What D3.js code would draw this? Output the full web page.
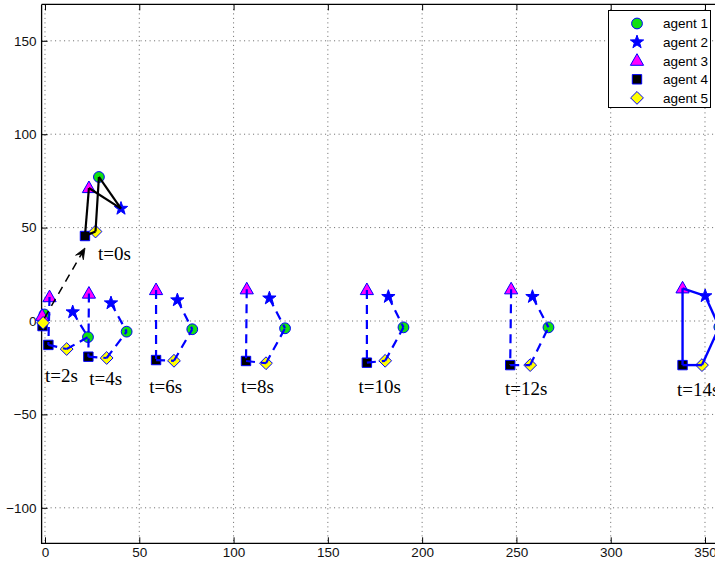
<!DOCTYPE html>
<html><head><meta charset="utf-8">
<script src="https://cdn.jsdelivr.net/npm/d3@7"></script>
<style>html,body{margin:0;padding:0;background:#fff;overflow:hidden}</style>
</head><body>
<svg id="chart" width="715" height="563"></svg>
<script>
// ---------------- DATA ----------------
const agentNames = ["agent 1", "agent 2", "agent 3", "agent 4", "agent 5"];
const xTicks = [0, 50, 100, 150, 200, 250, 300, 350];
const yTicks = [-100, -50, 0, 50, 100, 150];
const timeLabels = ["t=0s", "t=2s", "t=4s", "t=6s", "t=8s", "t=10s", "t=12s", "t=14s"];
// positions of agents 1..5 at each time, [x, y]
const posT0  = [[28.6, 77.1], [40.3, 60.2], [23.3, 71.2], [21.2, 45.5], [26.8, 47.9]];
const posT2  = [[22.8, -8.6], [14.7, 4.8], [2.4, 12.8], [1.8, -12.8], [11.5, -15.0]];
const posT4  = [[43.3, -5.7], [35.0, 9.6], [23.3, 14.7], [23.0, -19.1], [32.7, -19.8]];
const posT6  = [[78.1, -4.4], [70.2, 11.2], [58.9, 16.6], [58.9, -20.9], [68.4, -21.3]];
const posT8  = [[127.3, -3.9], [119.0, 12.2], [107.0, 17.0], [106.6, -21.4], [117.2, -22.6]];
const posT10 = [[190.1, -3.4], [182.1, 13.0], [170.7, 16.6], [170.7, -22.3], [180.4, -21.3]];
const posT12 = [[267.0, -3.4], [258.5, 13.0], [247.2, 17.0], [246.7, -23.6], [257.3, -23.6]];
const posT14 = [[357.6, -3.2], [350.1, 13.4], [338.1, 17.5], [338.1, -23.6], [348.4, -23.6]];
// cluster of markers near the origin (agent 2 hidden)
const posOrigin = [[-0.3, 3.5], null, [-1.5, 2.8], [-1.3, -2.7], [-1.0, -1.0]];
// text label anchor (left, baseline) in data units
const labelX = [28.1, 0.0, 23.5, 55.3, 104.0, 166.2, 244.0, 335.1];
const labelY = [32.7, -32.7, -34.3, -38.5, -38.5, -38.5, -39.6, -40.1];
// arrow from near origin to initial formation
const arrowFrom = [-0.3, 1.6];
const arrowTo = [21.2, 39.1];
// links (agent indices) : closed ring and dashed chain
const ringEdges = [[2, 1], [1, 0], [0, 4], [4, 3], [3, 2]];
const chainEdges = [[2, 3], [3, 4], [4, 0], [1, 0]];

// ---------------- SETUP ----------------
const svg = d3.select("#chart");
const W = 715, H = 563;
const x = d3.scaleLinear().domain([-1.8, 360]).range([41.6, 41.6 + 361.8 * 1.8857]);
const y = d3.scaleLinear().domain([-119, 169.5]).range([543.3, 543.3 - 288.5 * 1.868]);
const X0 = x(-1.8), Y0 = y(-119), YT = y(169.5);

const formations = [
  {pos: posT0, style: "black"},
  {pos: posT2, style: "dash"},
  {pos: posT4, style: "dash"},
  {pos: posT6, style: "dash"},
  {pos: posT8, style: "dash"},
  {pos: posT10, style: "dash"},
  {pos: posT12, style: "dash"},
  {pos: posT14, style: "blue"}
];

// ---------------- GRID ----------------
const grid = svg.append("g").attr("stroke", "#666").attr("stroke-width", 1)
  .attr("stroke-dasharray", "1,3.5");
xTicks.forEach(t => grid.append("line").attr("x1", x(t)).attr("x2", x(t)).attr("y1", YT).attr("y2", Y0));
yTicks.forEach(t => grid.append("line").attr("x1", X0).attr("x2", W + 20).attr("y1", y(t)).attr("y2", y(t)));

// ---------------- AXES ----------------
const xAxisB = d3.axisBottom(x).tickValues(xTicks).tickSizeInner(-6).tickSizeOuter(0).tickPadding(4)
  .tickFormat(d3.format("d"));
const gxb = svg.append("g").attr("transform", `translate(0,${Y0})`).call(xAxisB);
const xAxisT = d3.axisTop(x).tickValues(xTicks).tickSizeInner(-6).tickSizeOuter(0).tickFormat("");
const gxt = svg.append("g").attr("transform", `translate(0,${YT})`).call(xAxisT);
const yAxisL = d3.axisLeft(y).tickValues(yTicks).tickSizeInner(-6).tickSizeOuter(0).tickPadding(5)
  .tickFormat(d => d < 0 ? "\u2212" + Math.abs(d) : d);
const gyl = svg.append("g").attr("transform", `translate(${X0},0)`).call(yAxisL);
[gxb, gxt, gyl].forEach(g => {
  g.select(".domain").remove();
  g.selectAll(".tick line").attr("stroke", "#000").attr("stroke-width", 1);
  g.selectAll(".tick text").attr("font-family", "Liberation Sans, Arial, Helvetica, sans-serif")
    .attr("font-size", "13.5px").attr("fill", "#111");
});
// frame
svg.append("path").attr("d", `M${X0},${YT}V${Y0}H${W + 10}M${X0},${YT}H${W + 10}`)
  .attr("fill", "none").attr("stroke", "#000").attr("stroke-width", 1.3);

// ---------------- MARKERS ----------------
const markerPath = [
  // circle
  (s) => { const r = 5.4 * s; return `M${r},0A${r},${r} 0 1,1 ${-r},0A${r},${r} 0 1,1 ${r},0Z`; },
  // pentagram
  (s) => { const R = 7 * s, r = 2.8 * s; let p = "";
    for (let i = 0; i < 10; i++) { const a = -Math.PI / 2 + i * Math.PI / 5, rr = i % 2 ? r : R;
      p += (i ? "L" : "M") + (rr * Math.cos(a)).toFixed(2) + "," + (rr * Math.sin(a)).toFixed(2); }
    return p + "Z"; },
  // triangle up
  (s) => `M0,${-7 * s}L${6.6 * s},${4.6 * s}L${-6.6 * s},${4.6 * s}Z`,
  // square
  (s) => { const h = 4.7 * s; return `M${-h},${-h}H${h}V${h}H${-h}Z`; },
  // diamond
  (s) => { const h = 6.4 * s; return `M0,${-h}L${h},0L0,${h}L${-h},0Z`; }
];
const markerFill = ["#11e011", "#0000ff", "#ff00ff", "#000000", "#ffff00"];
const markerEdge = "#0000ff";

function drawMarker(g, i, px, py, s) {
  g.append("path").attr("d", markerPath[i](s)).attr("transform", `translate(${px},${py})`)
    .attr("fill", markerFill[i]).attr("stroke", markerEdge).attr("stroke-width", 1);
}

const gMarks = svg.append("g");
const gLines = svg.append("g").attr("fill", "none");

// origin cluster
posOrigin.forEach((p, i) => { if (p) drawMarker(gMarks, i, x(p[0]), y(p[1]), 1); });

formations.forEach((f) => {
  f.pos.forEach((p, i) => drawMarker(gMarks, i, x(p[0]), y(p[1]), 1));
  const edges = f.style === "dash" ? chainEdges : ringEdges;
  edges.forEach(([a, b]) => {
    const l = gLines.append("line")
      .attr("x1", x(f.pos[a][0])).attr("y1", y(f.pos[a][1]))
      .attr("x2", x(f.pos[b][0])).attr("y2", y(f.pos[b][1]))
      .attr("stroke-linecap", "butt");
    if (f.style === "black") l.attr("stroke", "#000").attr("stroke-width", 2.2);
    else if (f.style === "blue") l.attr("stroke", "#0000ff").attr("stroke-width", 2.4);
    else l.attr("stroke", "#0000ff").attr("stroke-width", 2.2).attr("stroke-dasharray", "9,6");
  });
});

// ---------------- ARROW ----------------
{
  const x1 = x(arrowFrom[0]), y1 = y(arrowFrom[1]), x2 = x(arrowTo[0]), y2 = y(arrowTo[1]);
  const dx = x2 - x1, dy = y2 - y1, L = Math.hypot(dx, dy), ux = dx / L, uy = dy / L;
  const hl = 11, hw = 4.5;
  svg.append("line").attr("x1", x1).attr("y1", y1).attr("x2", x2 - ux * 6).attr("y2", y2 - uy * 6)
    .attr("stroke", "#000").attr("stroke-width", 1.5).attr("stroke-dasharray", "8,6");
  const bx = x2 - ux * hl, by = y2 - uy * hl, nx = -uy, ny = ux;
  const mx = x2 - ux * hl * 0.6, my = y2 - uy * hl * 0.6;
  svg.append("path")
    .attr("d", `M${x2},${y2}L${bx + nx * hw},${by + ny * hw}L${mx},${my}L${bx - nx * hw},${by - ny * hw}Z`)
    .attr("fill", "#000").attr("stroke", "#000").attr("stroke-width", 0.8);
}

// ---------------- TIME LABELS ----------------
timeLabels.forEach((t, i) => {
  svg.append("text").attr("x", x(labelX[i])).attr("y", y(labelY[i]))
    .attr("font-family", "Liberation Serif, Times New Roman, serif").attr("font-size", "19px")
    .attr("fill", "#000").text(t);
});

// ---------------- LEGEND ----------------
const lg = svg.append("g");
lg.append("rect").attr("x", 608.5).attr("y", 10.5).attr("width", 102).attr("height", 97)
  .attr("fill", "#fff").attr("stroke", "#000").attr("stroke-width", 1);
agentNames.forEach((n, i) => {
  const cy = 23.5 + i * 18.6;
  drawMarker(lg, i, 637, cy, 1);
  lg.append("text").attr("x", 663).attr("y", cy + 4.8)
    .attr("font-family", "Liberation Sans, Arial, Helvetica, sans-serif").attr("font-size", "13.5px")
    .attr("fill", "#000").text(n);
});
</script>
</body></html>
